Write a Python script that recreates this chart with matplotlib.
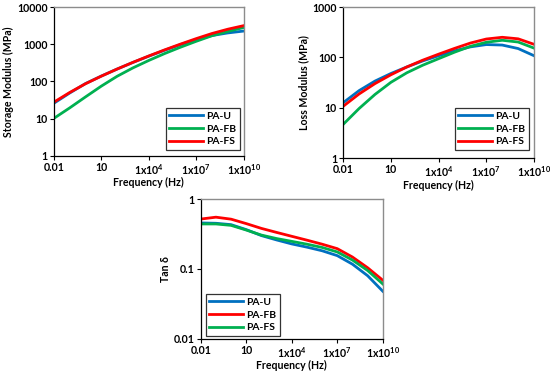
import matplotlib
matplotlib.use("Agg")
import matplotlib.pyplot as plt

plt.rcParams['font.family'] = ['Lato', 'DejaVu Sans']
plt.rcParams['font.weight'] = 'bold'
plt.rcParams['mathtext.fontset'] = 'custom'
plt.rcParams['mathtext.rm'] = 'Lato:bold'
plt.rcParams['mathtext.it'] = 'Lato:bold'
plt.rcParams['mathtext.bf'] = 'Lato:bold'

# frequency points (Hz), one per decade
freq = [1e-2, 1e-1, 1e0, 1e1, 1e2, 1e3, 1e4, 1e5, 1e6, 1e7, 1e8, 1e9, 1e10]

# storage modulus (MPa)
storage_u = [26, 49, 88, 140, 216, 325, 478, 690, 977, 1334, 1718, 2018, 2265]
storage_fb = [10.2, 19.5, 38.5, 75, 138, 232, 367, 562, 832, 1202, 1698, 2213, 2818]
storage_fs = [27.8, 50.6, 86.9, 139, 216, 327, 485, 706, 1009, 1419, 1950, 2541, 3162]

# loss modulus (MPa)
loss_u = [12.6, 21.9, 33.9, 47.9, 64.6, 85.1, 108, 135, 162, 180, 176, 150, 108]
loss_fb = [4.68, 9.66, 18.4, 32.0, 49.5, 70.0, 94.4, 127, 166, 200, 219, 202, 153]
loss_fs = [10.7, 18.8, 30.2, 45.2, 64.6, 88.1, 116, 151, 193, 232, 251, 234, 182]

# tan delta
tan_u = [0.455, 0.45, 0.43, 0.365, 0.30, 0.26, 0.228, 0.205, 0.182, 0.155, 0.117, 0.080, 0.048]
tan_fb = [0.517, 0.55, 0.515, 0.445, 0.38, 0.333, 0.293, 0.258, 0.226, 0.195, 0.148, 0.104, 0.069]
tan_fs = [0.44, 0.44, 0.42, 0.36, 0.305, 0.272, 0.248, 0.226, 0.203, 0.175, 0.134, 0.095, 0.061]

xticks = [1e-2, 1e1, 1e4, 1e7, 1e10]
xticklabels = ['0.01', '10', '1x10$^{4}$', '1x10$^{7}$', '1x10$^{10}$']

blue = '#0070C0'
green = '#00B050'
red = '#FF0000'
fs = 7.6


def style_axis(ax, ylim, yticks, yticklabels, ylabel):
    ax.set_xscale('log')
    ax.set_yscale('log')
    ax.set_xlim(1e-2, 1e10)
    ax.set_ylim(*ylim)
    ax.set_xticks(xticks)
    ax.set_xticklabels(xticklabels, fontsize=fs, fontweight='bold')
    ax.set_yticks(yticks)
    ax.set_yticklabels(yticklabels, fontsize=fs, fontweight='bold')
    ax.minorticks_off()
    ax.tick_params(direction='out', length=3, width=0.8, pad=1.5)
    ax.set_xlabel('Frequency (Hz)', fontsize=fs, fontweight='bold', labelpad=0.5)
    ax.set_ylabel(ylabel, fontsize=fs, fontweight='bold', labelpad=2)
    for s in ['left', 'bottom']:
        ax.spines[s].set_color('black')
        ax.spines[s].set_linewidth(0.9)
    for s in ['top', 'right']:
        ax.spines[s].set_color('#8c8c8c')
        ax.spines[s].set_linewidth(1.0)


def add_legend(ax, anchor, loc):
    leg = ax.legend(loc=loc, bbox_to_anchor=anchor, fancybox=False, edgecolor='black',
                    prop={'size': fs - 0.2, 'weight': 'bold'}, handlelength=3.3,
                    borderpad=0.35, labelspacing=0.35, handletextpad=0.3, borderaxespad=0)
    leg.get_frame().set_linewidth(0.9)


fig = plt.figure(figsize=(5.5, 3.72), dpi=100)

lw = 2.0

ax1 = fig.add_axes([0.098, 0.581, 0.345, 0.40])
ax1.plot(freq, storage_u, color=blue, lw=lw, label='PA-U')
ax1.plot(freq, storage_fb, color=green, lw=lw, label='PA-FB')
ax1.plot(freq, storage_fs, color=red, lw=lw, label='PA-FS')
style_axis(ax1, (1, 10000), [1, 10, 100, 1000, 10000],
           ['1', '10', '100', '1000', '10000'], 'Storage Modulus (MPa)')
add_legend(ax1, (0.98, 0.04), 'lower right')

ax2 = fig.add_axes([0.624, 0.575, 0.347, 0.406])
ax2.plot(freq, loss_u, color=blue, lw=lw, label='PA-U')
ax2.plot(freq, loss_fb, color=green, lw=lw, label='PA-FB')
ax2.plot(freq, loss_fs, color=red, lw=lw, label='PA-FS')
style_axis(ax2, (1, 1000), [1, 10, 100, 1000],
           ['1', '10', '100', '1000'], 'Loss Modulus (MPa)')
add_legend(ax2, (0.974, 0.053), 'lower right')

ax3 = fig.add_axes([0.365, 0.089, 0.331, 0.376])
ax3.plot(freq, tan_u, color=blue, lw=lw, label='PA-U')
ax3.plot(freq, tan_fb, color=red, lw=lw, label='PA-FB')
ax3.plot(freq, tan_fs, color=green, lw=lw, label='PA-FS')
style_axis(ax3, (0.01, 1), [0.01, 0.1, 1],
           ['0.01', '0.1', '1'], 'Tan δ')
add_legend(ax3, (0.027, 0.02), 'lower left')

fig.savefig('out.png', dpi=100)
